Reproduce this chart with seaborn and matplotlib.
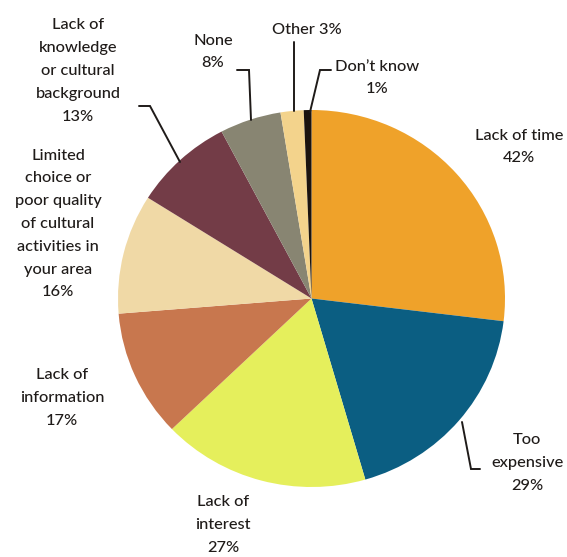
import matplotlib
matplotlib.use("Agg")
import matplotlib.pyplot as plt
import seaborn as sns

sns.set_theme(style="white")
plt.rcParams['font.family'] = ['Lato', 'DejaVu Sans']

categories = ["Lack of time", "Too expensive", "Lack of interest", "Lack of information",
              "Limited choice or poor quality of cultural activities in your area",
              "Lack of knowledge or cultural background", "None", "Other", "Don\u2019t know"]
values = [42, 29, 27, 17, 16, 13, 8, 3, 1]
label_texts = ["Lack of time\n42%", "Too\nexpensive\n29%", "Lack of\ninterest\n27%",
               "Lack of\ninformation\n17%",
               "Limited\nchoice or\npoor quality\nof cultural\nactivities in\nyour area\n16%",
               "Lack of\nknowledge\nor cultural\nbackground\n13%", "None\n8%", "Other 3%",
               "Don\u2019t know\n1%"]
colors = sns.color_palette(["#EFA22A", "#0B5E82", "#E5EF5C", "#C8774E", "#F0D9A6",
                            "#733C47", "#888572", "#F3D38C", "#1B130E"])

W, H = 567, 557
fig = plt.figure(figsize=(W / 100, H / 100), dpi=100)
ax = fig.add_axes([0, 0, 1, 1])

# pixel geometry of the (slightly elliptical) pie
cx, cy, rx, ry = 311.5, 298.5, 193.5, 188.5

def px(x, y):
    return ((x - cx) / rx, (cy - y) / ry)

ax.pie(values, colors=colors, startangle=90, counterclock=False, radius=1,
       center=(0, 0), wedgeprops=dict(linewidth=0))
ax.set_xlim((0 - cx) / rx, (W - cx) / rx)
ax.set_ylim((cy - H) / ry, cy / ry)
ax.set_aspect('auto')
ax.axis('off')

text_pos = [(519, 147), (527, 463), (223, 525), (62, 398), (58, 224),
            (78, 71), (213, 52), (307, 30), (377, 78)]
tc = "#1F1B19"
for t, (x, y) in zip(label_texts, text_pos):
    ax.text(*px(x, y), t, ha='center', va='center', fontsize=11.8, color=tc,
            linespacing=1.8, fontweight='medium')

leaders = [
    [(462, 422), (471, 469), (480, 469)],
    [(139, 106), (150, 106), (180, 162)],
    [(237, 70), (249, 70), (251, 120)],
    [(293.5, 42), (293.5, 111)],
    [(331, 70), (320, 70), (310, 112)],
]
for pts in leaders:
    xs, ys = zip(*[px(a, b) for a, b in pts])
    ax.plot(xs, ys, color=tc, lw=1.4, solid_joinstyle='miter')

fig.savefig("out.png", dpi=100)
